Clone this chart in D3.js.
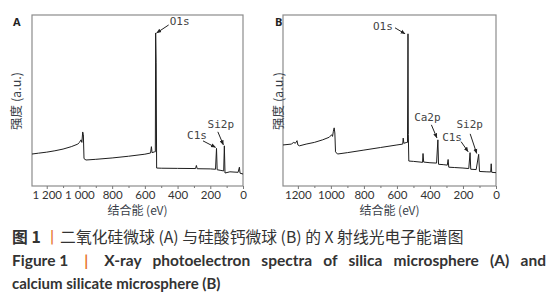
<!DOCTYPE html>
<html>
<head>
<meta charset="utf-8">
<script src="https://cdn.jsdelivr.net/npm/d3@7"></script>
<style>
  body { margin: 0; background: #fff; }
  svg { display: block; }
</style>
</head>
<body>
<div id="chart"></div>
<script>
// Spectrum A: silica microsphere (binding energy eV, intensity a.u.)
const eVA = [1290, 1250, 1200, 1150, 1100, 1050, 1010, 1000, 990, 985, 980, 976, 972, 960,
  900, 800, 700, 600, 565, 560, 556, 540, 536, 534, 531, 528,
  500, 400, 290, 285, 280, 200, 168, 162, 158, 140, 118, 114, 110, 80, 30, 22, 18, 0];
const intA = [18.7, 19.2, 19.8, 20.6, 21.6, 23, 24.5, 25.5, 27, 25.5, 31.6, 30, 16, 15.2,
  15.6, 16.4, 17.4, 18.6, 19.3, 23, 19.5, 20, 20, 89.5, 72, 10.5,
  10.4, 10.3, 10.2, 12, 10.1, 10, 9.8, 22, 9.5, 9.2, 8.8, 23.5, 7.6, 8.3, 8, 11, 7.5, 7];

// Spectrum B: calcium silicate microsphere
const eVB = [1290, 1240, 1225, 1215, 1205, 1200, 1190, 1150, 1100, 1050, 1010, 995, 990, 985,
  980, 976, 972, 960, 900, 800, 700, 600, 565, 562, 558, 540, 536, 533, 531, 528,
  500, 460, 445, 442, 438, 400, 360, 352, 348, 320, 295, 290, 286, 250, 200, 165, 157, 153,
  120, 105, 100, 60, 32, 29, 26, 0];
const intB = [24, 24.5, 25.5, 25, 26.5, 24, 23.5, 24.5, 25.5, 27, 28.5, 30, 29, 32,
  34, 31, 20, 18.7, 19.5, 21, 22.5, 24, 24.5, 28, 25, 25.5, 25.5, 89, 30, 14.6,
  14.4, 14, 13.8, 19, 14, 13.6, 13.4, 27, 12.7, 12.5, 12.2, 15.5, 11, 10.8, 10.5, 10.2, 19.5, 9.8,
  9.6, 18.5, 8.5, 8.3, 8.2, 13, 8, 7.8];

// Peak labels: [label, peak eV, peak intensity]
const labelsA = [["O1s", 534, 89.5], ["C1s", 162, 22], ["Si2p", 114, 23.5]];
const labelsB = [["O1s", 533, 89], ["Ca2p", 352, 27], ["C1s", 157, 19.5], ["Si2p", 105, 18.5]];

const majorTicks = [1200, 1000, 800, 600, 400, 200, 0];
const minorTicks = [1100, 900, 700, 500, 300, 100];
const tickTextA = ["1 200", "1 000", "800", "600", "400", "200", "0"];
const tickTextB = ["1200", "1000", "800", "600", "400", "200", "0"];

const W = 559, H = 300;
const svg = d3.select("#chart").append("svg")
  .attr("width", W).attr("height", H);

svg.append("defs").append("marker")
  .attr("id", "arr")
  .attr("viewBox", "0 0 10 10")
  .attr("refX", 9).attr("refY", 5)
  .attr("markerWidth", 5).attr("markerHeight", 5)
  .attr("orient", "auto")
  .append("path")
  .attr("d", "M0,1 L10,5 L0,9 Z")
  .attr("fill", "#222");

const plotTop = 15, plotBottom = 186;

// label placement relative to peak top: [dx, dy, anchor, arrow start dx/dy from text, arrow end dx/dy from peak]
const offs = {
  A: { O1s: [14, -8, "start", -1, 0, 1, 0],
       C1s: [-19.5, -9.5, "middle", 6, 2, -1, -1],
       Si2p: [-3.5, -18, "middle", -3, 4, -1, -1] },
  B: { O1s: [-35, -4, "start", 22, -2, -3, 0],
       Ca2p: [-10.5, -19, "middle", 4, 4, -1, -2],
       C1s: [-18, -12, "middle", 9, 1, -2, -1],
       Si2p: [-9, -26.5, "middle", 0.5, 6, -2, -1] }
};

function panel(id, left, right, eV, inten, labels, tickText, ylabX) {
  const x = d3.scaleLinear().domain([1290, 0]).range([left, right]);
  const y = d3.scaleLinear().domain([0, 100]).range([plotBottom, plotTop]);
  const g = svg.append("g");

  // frame
  g.append("rect")
    .attr("x", left).attr("y", plotTop)
    .attr("width", right - left).attr("height", plotBottom - plotTop)
    .attr("fill", "none").attr("stroke", "#8c8c8c").attr("stroke-width", 1.2);

  // ticks
  const ax = g.append("g").attr("transform", `translate(0,${plotBottom})`)
    .call(d3.axisBottom(x).tickValues(majorTicks).tickSize(3)
      .tickFormat((d, i) => tickText[i]));
  ax.select(".domain").remove();
  ax.selectAll("line").attr("stroke", "#777");
  ax.selectAll("text")
    .attr("font-family", "Lato, 'Open Sans', sans-serif")
    .attr("font-size", 11.5).attr("fill", "#333").attr("dy", "0.62em");
  g.append("g").attr("transform", `translate(0,${plotBottom})`)
    .call(d3.axisBottom(x).tickValues(minorTicks).tickSize(2).tickFormat(""))
    .call(s => s.select(".domain").remove())
    .selectAll("line").attr("stroke", "#777");

  // spectrum
  const pts = eV.map((e, i) => [e, inten[i]]);
  g.append("path")
    .datum(pts)
    .attr("d", d3.line().x(d => x(d[0])).y(d => y(d[1])))
    .attr("fill", "none").attr("stroke", "#1e1e1e").attr("stroke-width", 1);

  // peak labels + arrows
  labels.forEach(([lab, pe, pv]) => {
    const px = x(pe), py = y(pv);
    const o = offs[id][lab];
    const tx = px + o[0], ty = py + o[1];
    g.append("text")
      .attr("x", tx).attr("y", ty)
      .attr("text-anchor", o[2])
      .attr("font-family", "'DejaVu Sans Mono', monospace")
      .attr("font-size", 11).attr("fill", "#444")
      .text(lab);
    g.append("line")
      .attr("x1", tx + o[3]).attr("y1", ty + o[4])
      .attr("x2", px + o[5]).attr("y2", py + o[6])
      .attr("stroke", "#222").attr("stroke-width", 1)
      .attr("marker-end", "url(#arr)");
  });

  // panel letter
  svg.append("text")
    .attr("x", ylabX).attr("y", 26)
    .attr("font-family", "'Open Sans', sans-serif").attr("font-weight", "bold")
    .attr("font-size", 11).attr("fill", "#222")
    .text(id);

  // y label
  svg.append("text")
    .attr("transform", `translate(${ylabX + 8},101) rotate(-90)`)
    .attr("text-anchor", "middle")
    .attr("font-family", "'Noto Sans CJK SC', sans-serif")
    .attr("font-size", 12.5).attr("fill", "#3a3f4a")
    .text("强度 (a.u.)");

  // x label
  svg.append("text")
    .attr("x", (left + right) / 2).attr("y", 215)
    .attr("text-anchor", "middle")
    .attr("font-family", "'Noto Sans CJK SC', sans-serif")
    .attr("font-size", 12).attr("fill", "#3a3f4a")
    .text("结合能 (eV)");
}

panel("A", 32, 243, eVA, intA, labelsA, tickTextA, 13);
panel("B", 283, 496, eVB, intB, labelsB, tickTextB, 275);

// caption
const cap = svg.append("g").attr("fill", "#333");
const t1 = cap.append("text").attr("x", 12).attr("y", 243)
  .attr("font-family", "'Noto Sans CJK SC', sans-serif").attr("font-size", 15.8);
t1.append("tspan").attr("font-weight", "bold").text("图 1 ");
t1.append("tspan").attr("fill", "#e8742b").text("丨");
t1.append("tspan").text("二氧化硅微球 (A) 与硅酸钙微球 (B) 的 X 射线光电子能谱图");

// English caption, first line justified to the right margin
const t2 = cap.append("text").attr("x", 12).attr("y", 266)
  .attr("font-family", "Lato, sans-serif").attr("font-weight", "bold").attr("font-size", 15.5);
t2.append("tspan").text("Figure 1");
t2.append("tspan").attr("fill", "#e8742b").attr("dx", 16).text("|");
const t2b = t2.append("tspan").attr("dx", 16)
  .text("X-ray photoelectron spectra of silica microsphere (A) and");
const rightEdge = () => { const b = t2.node().getBBox(); return b.x + b.width; };
const gaps = t2b.text().split(" ").length - 1;
const w0 = rightEdge();
let ws = (546 - w0) / gaps;
t2b.style("word-spacing", ws + "px");
const w1 = rightEdge();
if (w1 !== w0) {
  ws = ws * (546 - w0) / (w1 - w0);
  t2b.style("word-spacing", Math.max(0, ws) + "px");
}

cap.append("text").attr("x", 12).attr("y", 289)
  .attr("font-family", "Lato, sans-serif").attr("font-weight", "bold").attr("font-size", 15)
  .text("calcium silicate microsphere (B)");
</script>
</body>
</html>
